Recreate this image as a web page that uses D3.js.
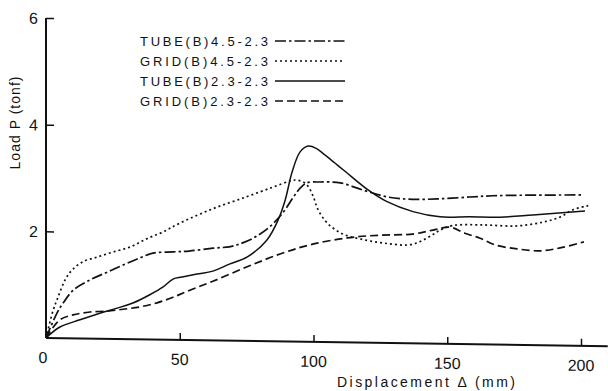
<!DOCTYPE html>
<html>
<head>
<meta charset="utf-8">
<script src="https://cdn.jsdelivr.net/npm/d3@7"></script>
<style>
  body { margin: 0; background: #fff; }
  svg { display: block; }
  text { font-family: "Liberation Sans", Arial, sans-serif; fill: #111; }
</style>
</head>
<body>
<div class="center"></div>
<script>
// series (displacement mm, load tonf)
const tube45 = [[0,0],[4.1,0.47],[6.4,0.66],[10.3,0.91],[16.4,1.10],[22.4,1.24],[28.8,1.39],[35.2,1.53],[40,1.62],[47.5,1.65],[53.5,1.67],[62.5,1.73],[68.5,1.76],[71.5,1.80],[77.5,1.93],[83.5,2.14],[88.5,2.41],[92.5,2.71],[95,2.88],[97.5,2.98],[102.5,3.00],[110,2.99],[118.5,2.86],[127.5,2.74],[137,2.70],[147.5,2.72],[158.5,2.76],[167,2.79],[180,2.81],[201,2.83]];
const grid45 = [[0,0],[2.6,0.51],[4.5,0.77],[7.1,1.09],[9.7,1.28],[13.8,1.44],[19,1.53],[25,1.63],[31.5,1.73],[37.7,1.89],[43.7,2.02],[50,2.19],[62.4,2.47],[74.8,2.70],[84.8,2.89],[91.3,3.01],[93.8,3.03],[97.2,2.96],[99.8,2.74],[101.7,2.48],[105.4,2.22],[111,2.03],[117.8,1.94],[126.7,1.87],[136.2,1.85],[142.5,1.98],[147.3,2.13],[152,2.22],[163.3,2.24],[176,2.23],[185.8,2.31],[192.2,2.41],[197,2.55],[202.7,2.63]];
const tube23 = [[0,0],[5.2,0.21],[12.7,0.35],[20.1,0.48],[26.6,0.58],[32.5,0.68],[38.8,0.84],[43.8,0.99],[47.5,1.14],[50.8,1.18],[56.4,1.24],[62.4,1.30],[68.8,1.44],[75.1,1.57],[82.6,1.90],[86.8,2.28],[89.4,2.65],[92,3.18],[95,3.56],[98,3.67],[101,3.63],[104,3.52],[108,3.36],[112,3.20],[120,2.88],[127.5,2.65],[137.2,2.47],[147.3,2.38],[158.5,2.39],[169.7,2.39],[182,2.44],[201.5,2.53]];
const grid23 = [[0,0],[5.1,0.34],[10.1,0.44],[16.4,0.50],[22.8,0.52],[28.8,0.56],[35.2,0.61],[41.5,0.69],[47.5,0.80],[54,0.94],[62.4,1.11],[75.2,1.39],[87.5,1.64],[98.7,1.82],[112.6,1.96],[124.9,2.02],[137.2,2.05],[144.7,2.13],[151,2.19],[156.6,2.08],[162.3,1.99],[167.8,1.87],[176.1,1.80],[184.7,1.77],[192.2,1.83],[201.1,1.95]];

const seriesNames = ["TUBE(B)4.5-2.3", "GRID(B)4.5-2.3", "TUBE(B)2.3-2.3", "GRID(B)2.3-2.3"];
const seriesData = [tube45, grid45, tube23, grid23];
const seriesDash = ["11,3,2.5,3", "2,3", null, "8,4"];

const xTicks = [50, 100, 150, 200];
const yTicks = [2, 4, 6];

const W = 608, H = 391;
const origin = {x: 46, y: 338};

const svg = d3.select(".center").append("svg")
    .attr("width", W)
    .attr("height", H);

// the scan is slightly skewed, so the plot group follows it
const g = svg.append("g")
    .attr("transform", `translate(${origin.x},${origin.y}) skewY(0.84)`);

const xScale = d3.scaleLinear().domain([0, 200]).range([0, 535]);
const yScale = d3.scaleLinear().domain([0, 6]).range([0, -320]);

// axes
const xAxis = d3.axisTop(xScale).tickValues(xTicks).tickSize(7).tickFormat("");
const yAxis = d3.axisRight(yScale).tickValues(yTicks).tickSize(8).tickFormat("");

const xg = g.append("g").call(xAxis);
xg.select(".domain").remove();
xg.selectAll("line").attr("stroke", "#111").attr("stroke-width", 1.5);

const yg = g.append("g").call(yAxis);
yg.select(".domain").remove();
yg.selectAll("line").attr("stroke", "#111").attr("stroke-width", 1.5);

g.append("line")
    .attr("x1", 0).attr("x2", xScale(210))
    .attr("y1", 0).attr("y2", 0)
    .attr("stroke", "#111").attr("stroke-width", 2);
g.append("line")
    .attr("x1", 0).attr("x2", 0)
    .attr("y1", 0).attr("y2", yScale(6))
    .attr("stroke", "#111").attr("stroke-width", 2);

// tick labels
g.selectAll(".xlab")
    .data([0].concat(xTicks))
    .enter().append("text")
    .attr("x", d => xScale(d) - (d === 0 ? 3 : 0))
    .attr("y", 25)
    .attr("text-anchor", "middle")
    .style("font-size", "16px")
    .text(d => d);

g.selectAll(".ylab")
    .data(yTicks)
    .enter().append("text")
    .attr("x", -8)
    .attr("y", d => yScale(d) + 6)
    .attr("text-anchor", "end")
    .style("font-size", "16px")
    .text(d => d);

// curves
const line = d3.line()
    .x(d => xScale(d[0]))
    .y(d => yScale(d[1]))
    .curve(d3.curveCatmullRom.alpha(0.5));

seriesData.forEach(function(s, i) {
    g.append("path")
        .datum(s)
        .attr("d", line)
        .attr("fill", "none")
        .attr("stroke", "#111")
        .attr("stroke-width", i === 2 ? 1.5 : 1.7)
        .attr("stroke-dasharray", seriesDash[i]);
});

// axis titles
svg.append("text")
    .attr("transform", "translate(20,123) rotate(-90)")
    .attr("text-anchor", "middle")
    .attr("textLength", 93)
    .attr("lengthAdjust", "spacing")
    .style("font-size", "14px")
    .text("Load P (tonf)");

svg.append("text")
    .attr("x", 337)
    .attr("y", 387)
    .attr("textLength", 178)
    .attr("lengthAdjust", "spacing")
    .style("font-size", "14px")
    .text("Displacement \u0394 (mm)");

// legend
const rows = [41, 61, 81, 101];
seriesNames.forEach(function(name, i) {
    svg.append("text")
        .attr("x", 140)
        .attr("y", rows[i] + 5)
        .attr("textLength", 128)
        .attr("lengthAdjust", "spacing")
        .style("font-size", "13px")
        .text(name);
    svg.append("line")
        .attr("x1", 275).attr("x2", 345)
        .attr("y1", rows[i]).attr("y2", rows[i])
        .attr("stroke", "#111")
        .attr("stroke-width", 1.6)
        .attr("stroke-dasharray", seriesDash[i]);
});
</script>
</body>
</html>
